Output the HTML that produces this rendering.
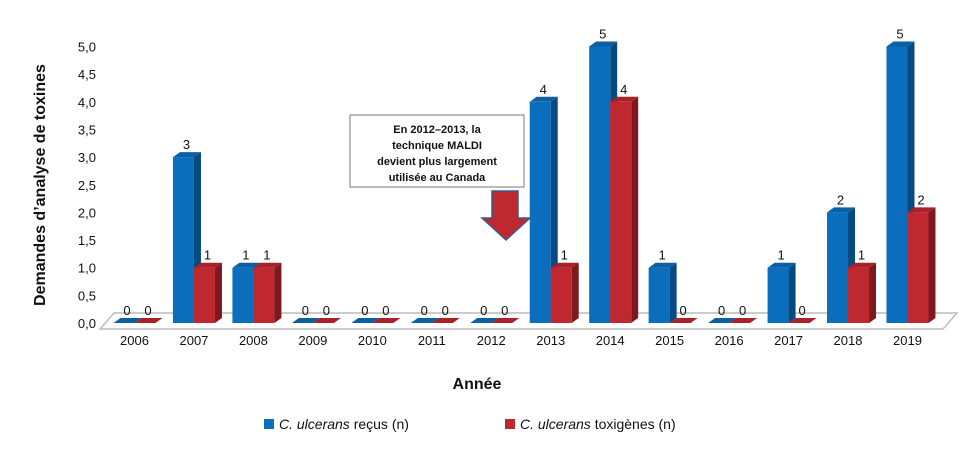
<!DOCTYPE html>
<html><head><meta charset="utf-8"><style>
body{margin:0;background:#fff;font-family:"Liberation Sans",sans-serif}
svg text{font-family:"Liberation Sans",sans-serif}
</style></head><body>
<svg id="c" width="980" height="450">
<g id="yaxis"></g>
<polygon points="100,329 943,329 957,313 114,313" fill="#fff" stroke="#bbb" stroke-width="1.5"/>
<g id="bars"></g>
<text transform="translate(45,185) rotate(-90)" text-anchor="middle" font-size="16" font-weight="bold" fill="#111">Demandes d’analyse de toxines</text>
<text x="477" y="389" text-anchor="middle" font-size="16" font-weight="bold" fill="#111">Année</text>
<g>
<rect x="350" y="115" width="174" height="72" fill="#fff" stroke="#777" stroke-width="1"/>
<text x="437" y="133" text-anchor="middle" font-size="11" font-weight="bold" fill="#111">En 2012–2013, la</text>
<text x="437" y="149" text-anchor="middle" font-size="11" font-weight="bold" fill="#111">technique MALDI</text>
<text x="437" y="165" text-anchor="middle" font-size="11" font-weight="bold" fill="#111">devient plus largement</text>
<text x="437" y="181" text-anchor="middle" font-size="11" font-weight="bold" fill="#111">utilisée au Canada</text>
<polygon points="492,191 518,191 518,218 530,218 506,240 482,218 492,218" fill="#c0282f" stroke="#3a5a8a" stroke-width="1.5"/>
</g>
<g>
<rect x="264" y="419" width="10" height="10" fill="#0a6ebd"/>
<text x="279" y="429" font-size="14" fill="#111"><tspan font-style="italic">C. ulcerans</tspan> reçus (n)</text>
<rect x="505" y="419" width="10" height="10" fill="#c0282f"/>
<text x="520" y="429" font-size="14" fill="#111"><tspan font-style="italic">C. ulcerans</tspan> toxigènes (n)</text>
</g>
</svg>
<script>
const years=["2006","2007","2008","2009","2010","2011","2012","2013","2014","2015","2016","2017","2018","2019"];
const recus=[0,3,1,0,0,0,0,4,5,1,0,1,2,5];
const toxigenes=[0,1,1,0,0,0,0,1,4,0,0,0,1,2];
const yTicks=[0,0.5,1,1.5,2,2.5,3,3.5,4,4.5,5];
const NS="http://www.w3.org/2000/svg";
const y0=323,yScale=55.3,x0=134.5,step=59.46,bw=21,dx=7,dy=5;
const Y=v=>y0-v*yScale, X=i=>x0+i*step;
function mk(t,a,p){const e=document.createElementNS(NS,t);for(const k in a)e.setAttribute(k,a[k]);p.appendChild(e);return e;}
const ya=document.getElementById('yaxis');
yTicks.forEach(v=>{
 const t=mk('text',{x:96,y:Y(v)+5,'text-anchor':'end','font-size':13,fill:'#111'},ya);
 t.textContent=v.toFixed(1).replace('.',',');
 
 
});
const bars=document.getElementById('bars');
function bar(x,v,front,side,top,name){
 const g=mk('g',{},bars);
 
 
 const yt=Y(v);
 mk('polygon',{points:`${x+bw},${y0} ${x+bw+dx},${y0-dy} ${x+bw+dx},${yt-dy} ${x+bw},${yt}`,fill:side},g);
 mk('polygon',{points:`${x},${yt} ${x+dx},${yt-dy} ${x+bw+dx},${yt-dy} ${x+bw},${yt}`,fill:top},g);
 if(v>0)mk('rect',{x:x,y:yt,width:bw,height:y0-yt,fill:front},g);
 const t=mk('text',{x:x+bw/2+3,y:yt-dy-3,'text-anchor':'middle','font-size':13,fill:'#111'},g);
 t.textContent=v;
}
years.forEach((yr,i)=>{
 const c=X(i);
 bar(c-bw,recus[i],'#0a6ebd','#064a80','#0b5fa3','bar-recus-'+yr);
 bar(c,toxigenes[i],'#c0282f','#7e1a1f','#a82228','bar-toxigenes-'+yr);
 const t=mk('text',{x:c,y:345,'text-anchor':'middle','font-size':13,fill:'#111'},bars);
 t.textContent=yr;
 
 
});
</script>
</body></html>
